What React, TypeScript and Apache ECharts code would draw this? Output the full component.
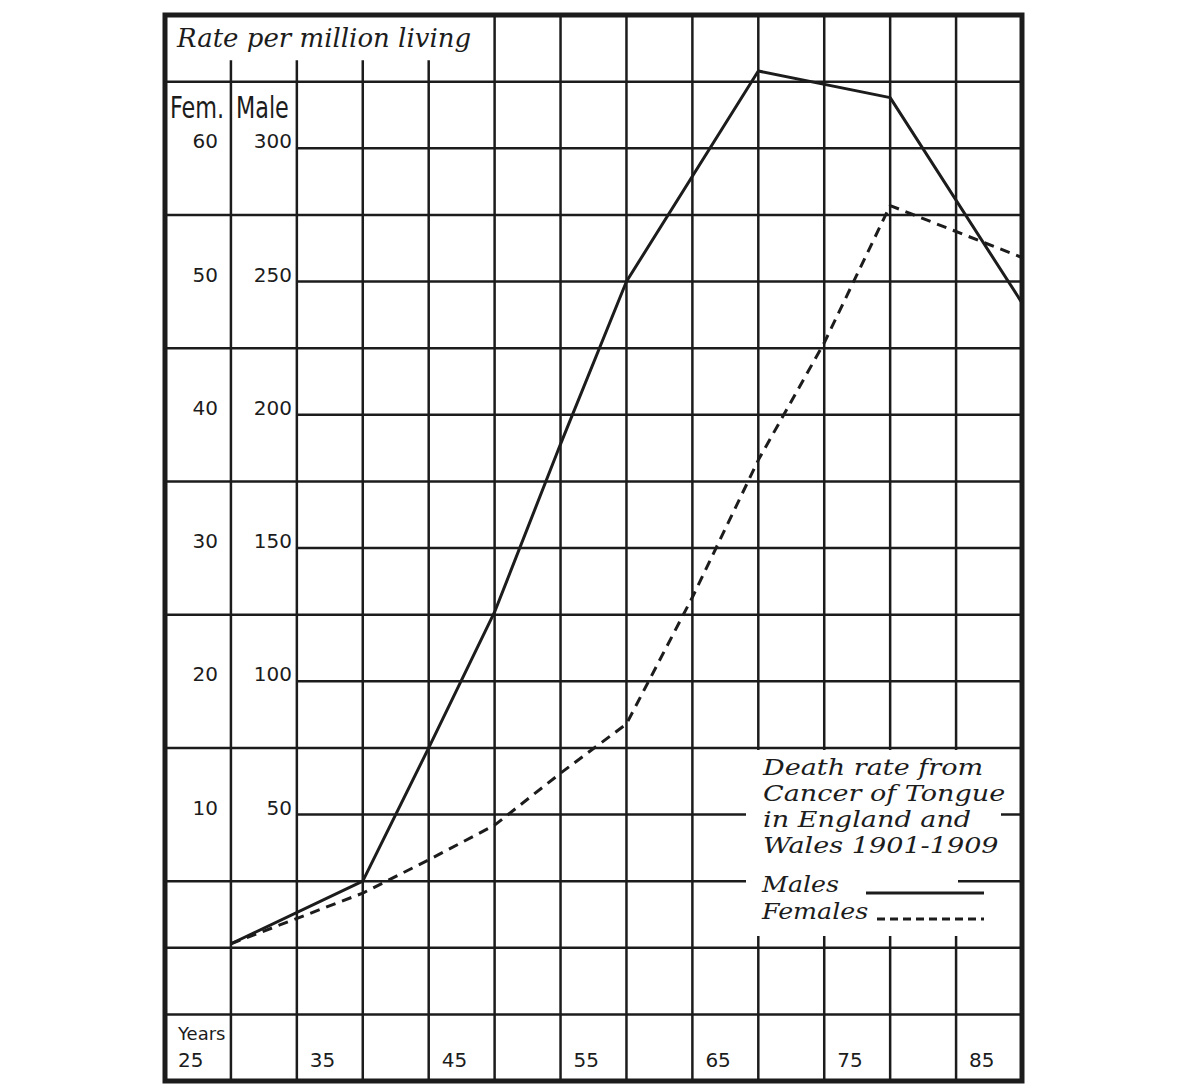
import React, { useEffect, useRef } from 'react';
import * as echarts from 'echarts';

// ---- data ----
const maleAges = [30, 40, 45, 50, 55, 60, 70, 80, 90];
const maleRates = [1.5, 25, 75, 126, 189, 250, 329, 319, 242];
const femaleAges = [30, 40, 45, 50, 55, 60, 65, 70, 75, 80, 90];
const femaleRates = [0.3, 4.1, 6.6, 9.2, 13.1, 16.8, 26.3, 36.6, 45.4, 55.7, 51.8];
const yearTicks = [25, 35, 45, 55, 65, 75, 85];
const maleTicks = [50, 100, 150, 200, 250, 300];
const femTicks = [10, 20, 30, 40, 50, 60];
const titleText = 'Rate per million living';
const legendLines = ['Death rate from', 'Cancer of Tongue', 'in England and', 'Wales 1901-1909'];
const legendMales = 'Males';
const legendFemales = 'Females';

const INK = '#1c1c1c';
const X_MIN = 25, X_MAX = 90, X_STEP = 5;
const Y_MIN = -50, Y_MAX = 350, Y_STEP = 25;
const HEADER_TICK_TOP = 333;
const SCRIPT_FONT = '"DejaVu Serif", serif';
const NUM_FONT = '"DejaVu Sans", sans-serif';
const COND_FONT = '"DejaVu Sans Condensed", "DejaVu Sans", sans-serif';

function buildGridSegments() {
  const segs: number[][] = [];
  for (let v = Y_MIN + Y_STEP; v < Y_MAX; v += Y_STEP) {
    const start = maleTicks.includes(v) ? 35 : X_MIN;
    segs.push([start, v, X_MAX, v]);
  }
  for (let x = X_MIN + X_STEP; x < X_MAX; x += X_STEP) {
    const top = x <= 45 ? HEADER_TICK_TOP : Y_MAX;
    segs.push([x, Y_MIN, x, top]);
  }
  return segs;
}

export default function App() {
  const ref = useRef<HTMLDivElement>(null);
  useEffect(() => {
    if (!ref.current) return;
    const chart = echarts.init(ref.current, null, { renderer: 'svg' });
    const yLabel = {
      align: 'right', verticalAlign: 'bottom', lineHeight: 14,
      color: INK, fontSize: 20, fontFamily: NUM_FONT,
    };
    const legendLineTexts = legendLines.map((t, i) => ({
      type: 'text', x: 763, y: 767 + i * 26, z: 50, scaleX: 1.23,
      style: { text: t, fontFamily: SCRIPT_FONT, fontStyle: 'italic', fontSize: 22, fill: INK, verticalAlign: 'middle', align: 'left' },
    }));
    const option: any = {
      animation: false,
      backgroundColor: '#ffffff',
      textStyle: { fontFamily: NUM_FONT, color: INK },
      grid: {
        left: 165, top: 15, right: 178, bottom: 10,
        show: true, borderColor: INK, borderWidth: 5, backgroundColor: 'transparent',
        outerBoundsMode: 'none',
      },
      xAxis: {
        type: 'value', min: X_MIN, max: X_MAX, interval: X_STEP,
        axisLine: { show: false }, axisTick: { show: false }, splitLine: { show: false },
        axisLabel: {
          inside: true, margin: 21, align: 'left', verticalAlign: 'middle',
          padding: [0, 0, 0, 13], color: INK, fontSize: 20, fontFamily: NUM_FONT,
          formatter: (v: number) => (yearTicks.includes(v) ? String(v) : ''),
        },
      },
      yAxis: [
        {
          type: 'value', min: Y_MIN, max: Y_MAX, interval: Y_STEP, position: 'left',
          axisLine: { show: false }, axisTick: { show: false }, splitLine: { show: false },
          axisLabel: {
            ...yLabel, margin: -127,
            formatter: (v: number) => (maleTicks.includes(v) ? String(v) : ''),
          },
        },
        {
          type: 'value', min: -10, max: 70, interval: 5, position: 'left',
          axisLine: { show: false }, axisTick: { show: false }, splitLine: { show: false },
          axisLabel: {
            ...yLabel, margin: -53,
            formatter: (v: number) => (femTicks.includes(v) ? String(v) : ''),
          },
        },
      ],
      series: [
        {
          type: 'custom',
          name: 'grid',
          silent: true,
          xAxisIndex: 0, yAxisIndex: 0,
          data: buildGridSegments(),
          renderItem: (params: any, api: any) => {
            const p1 = api.coord([api.value(0), api.value(1)]);
            const p2 = api.coord([api.value(2), api.value(3)]);
            return {
              type: 'line',
              shape: { x1: p1[0], y1: p1[1], x2: p2[0], y2: p2[1] },
              style: { stroke: INK, lineWidth: 2.5 },
            };
          },
          z: 1,
        },
        {
          type: 'line', name: 'Males', xAxisIndex: 0, yAxisIndex: 0,
          data: maleAges.map((a, i) => [a, maleRates[i]]),
          symbol: 'none', showSymbol: false,
          lineStyle: { color: INK, width: 3 },
          z: 5,
        },
        {
          type: 'line', name: 'Females', xAxisIndex: 0, yAxisIndex: 1,
          data: femaleAges.map((a, i) => [a, femaleRates[i]]),
          symbol: 'none', showSymbol: false,
          lineStyle: { color: INK, width: 3, type: [10, 7] },
          z: 5,
        },
      ],
      graphic: [
        {
          type: 'text', x: 177, y: 38, z: 50,
          style: { text: titleText, fontFamily: SCRIPT_FONT, fontStyle: 'italic', fontSize: 26, fill: INK, verticalAlign: 'middle', align: 'left' },
        },
        {
          type: 'text', x: 170, y: 108, z: 50, scaleX: 0.8,
          style: { text: 'Fem.', fontFamily: COND_FONT, fontSize: 31, fill: INK, verticalAlign: 'middle', align: 'left' },
        },
        {
          type: 'text', x: 236, y: 108, z: 50, scaleX: 0.8,
          style: { text: 'Male', fontFamily: COND_FONT, fontSize: 31, fill: INK, verticalAlign: 'middle', align: 'left' },
        },
        {
          type: 'text', x: 178, y: 1033, z: 50,
          style: { text: 'Years', fontFamily: NUM_FONT, fontSize: 18, fill: INK, verticalAlign: 'middle', align: 'left' },
        },
        // legend area cleared of grid lines
        { type: 'rect', z: 40, shape: { x: 746, y: 750, width: 255, height: 128 }, style: { fill: '#ffffff' } },
        { type: 'rect', z: 40, shape: { x: 746, y: 877, width: 212, height: 10 }, style: { fill: '#ffffff' } },
        { type: 'rect', z: 40, shape: { x: 746, y: 886, width: 255, height: 50 }, style: { fill: '#ffffff' } },
        ...legendLineTexts,
        {
          type: 'text', x: 762, y: 885, z: 50, scaleX: 1.15,
          style: { text: legendMales, fontFamily: SCRIPT_FONT, fontStyle: 'italic', fontSize: 22, fill: INK, verticalAlign: 'middle', align: 'left' },
        },
        {
          type: 'text', x: 762, y: 912, z: 50, scaleX: 1.15,
          style: { text: legendFemales, fontFamily: SCRIPT_FONT, fontStyle: 'italic', fontSize: 22, fill: INK, verticalAlign: 'middle', align: 'left' },
        },
        { type: 'line', z: 50, shape: { x1: 866, y1: 893, x2: 984, y2: 893 }, style: { stroke: INK, lineWidth: 3 } },
        { type: 'line', z: 50, shape: { x1: 877, y1: 919, x2: 984, y2: 919 }, style: { stroke: INK, lineWidth: 3, lineDash: [8, 5] } },
      ],
    };
    chart.setOption(option);
    return () => chart.dispose();
  }, []);
  return (
    <div
      ref={ref}
      style={{ position: 'fixed', left: 0, top: 0, width: 1200, height: 1091, background: '#fff' }}
    />
  );
}
